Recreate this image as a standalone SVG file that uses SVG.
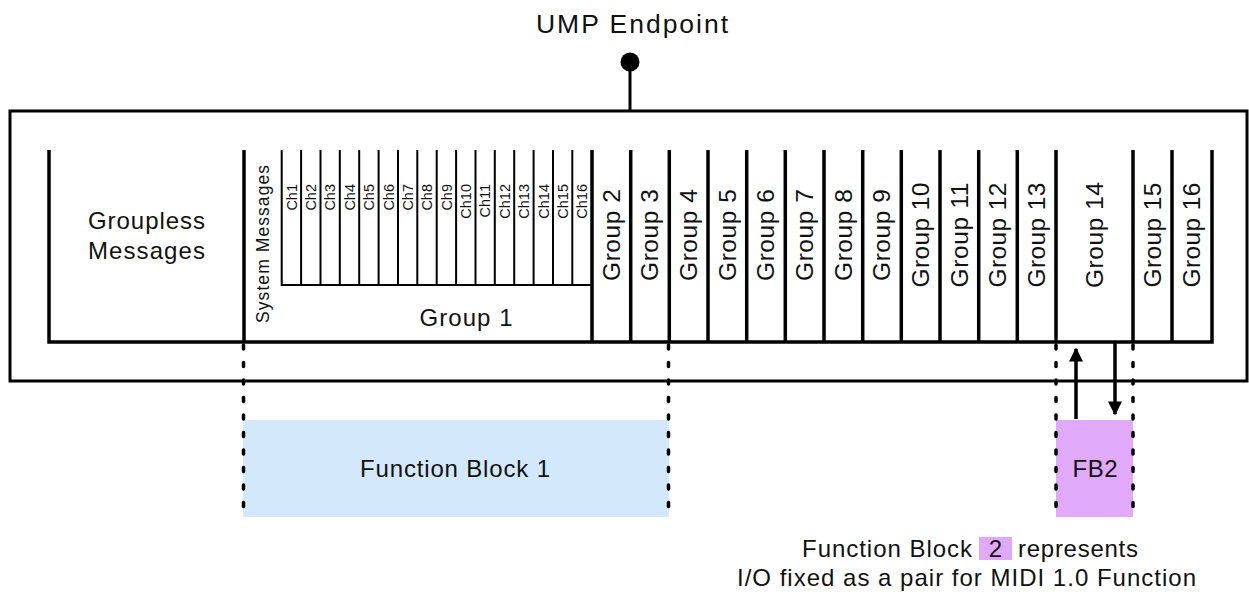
<svg xmlns="http://www.w3.org/2000/svg" width="1249" height="595" viewBox="0 0 1249 595">
<defs>
<style>
text{font-family:"Liberation Sans",Arial,sans-serif;fill:#111;}
.lbl{font-size:24px;}
.grp{font-size:24.5px;text-anchor:middle;}
.ch{font-size:14.5px;text-anchor:end;}
.thick{stroke:#000;stroke-width:3.5;fill:none;}
.thin{stroke:#000;stroke-width:2;fill:none;}
.dot{stroke:#000;stroke-width:3.5;stroke-dasharray:4 13.5;stroke-linecap:round;fill:none;}
.arr{stroke:#000;stroke-width:3.5;fill:none;}
</style>
<marker id="ah" viewBox="0 0 10 10" refX="9" refY="5" markerWidth="4.3" markerHeight="4" markerUnits="strokeWidth" orient="auto">
<path d="M0,0 L10,5 L0,10 z" fill="#000"/>
</marker>
</defs>
<rect width="1249" height="595" fill="#fff"/>

<g id="fb-areas">
<rect x="243" y="420" width="426" height="97" fill="#d3e8fb"/>
<rect x="1056" y="420" width="77" height="97" fill="#e0a9f9"/>
</g>

<g id="ump-endpoint">
<rect x="10" y="111" width="1237" height="270" fill="none" stroke="#000" stroke-width="3"/>
<text x="632" y="33" font-size="26.5" text-anchor="middle" textLength="192">UMP Endpoint</text>
</g>

<g id="frame">
<path class="thick" d="M49,150 V342 H1212 V150"/>
</g>

<g id="groupless">
<text class="lbl" x="146.5" y="229" text-anchor="middle" textLength="117">Groupless</text>
<text class="lbl" x="146.5" y="259" text-anchor="middle" textLength="117">Messages</text>
</g>

<g id="group1">
<line class="thick" x1="244" y1="150" x2="244" y2="342"/>
<path class="thin" d="M281.7,150 V285 H592 M301.1,150 V285 M320.5,150 V285 M339.8,150 V285 M359.2,150 V285 M378.6,150 V285 M398,150 V285 M417.3,150 V285 M436.7,150 V285 M456.1,150 V285 M475.5,150 V285 M494.8,150 V285 M514.2,150 V285 M533.6,150 V285 M553,150 V285 M572.3,150 V285"/>
<text transform="translate(268.5,244) rotate(-90)" font-size="17.5" text-anchor="middle" textLength="158">System Messages</text>
<text class="ch" transform="translate(296.6,184) rotate(-90)">Ch1</text>
<text class="ch" transform="translate(316.0,184) rotate(-90)">Ch2</text>
<text class="ch" transform="translate(335.4,184) rotate(-90)">Ch3</text>
<text class="ch" transform="translate(354.7,184) rotate(-90)">Ch4</text>
<text class="ch" transform="translate(374.1,184) rotate(-90)">Ch5</text>
<text class="ch" transform="translate(393.5,184) rotate(-90)">Ch6</text>
<text class="ch" transform="translate(412.9,184) rotate(-90)">Ch7</text>
<text class="ch" transform="translate(432.2,184) rotate(-90)">Ch8</text>
<text class="ch" transform="translate(451.6,184) rotate(-90)">Ch9</text>
<text class="ch" transform="translate(471.0,184) rotate(-90)">Ch10</text>
<text class="ch" transform="translate(490.4,184) rotate(-90)">Ch11</text>
<text class="ch" transform="translate(509.7,184) rotate(-90)">Ch12</text>
<text class="ch" transform="translate(529.1,184) rotate(-90)">Ch13</text>
<text class="ch" transform="translate(548.5,184) rotate(-90)">Ch14</text>
<text class="ch" transform="translate(567.9,184) rotate(-90)">Ch15</text>
<text class="ch" transform="translate(587.2,184) rotate(-90)">Ch16</text>
<text class="lbl" x="466" y="326" text-anchor="middle" textLength="93">Group 1</text>
</g>

<g id="group2"><line class="thick" x1="592" y1="150" x2="592" y2="342"/><text class="grp" transform="translate(619.5,235) rotate(-90)" textLength="92">Group 2</text></g>
<g id="group3"><line class="thick" x1="630.7" y1="150" x2="630.7" y2="342"/><text class="grp" transform="translate(658.2,235) rotate(-90)" textLength="92">Group 3</text></g>
<g id="group4"><line class="thick" x1="669.3" y1="150" x2="669.3" y2="342"/><text class="grp" transform="translate(696.9,235) rotate(-90)" textLength="92">Group 4</text></g>
<g id="group5"><line class="thick" x1="708" y1="150" x2="708" y2="342"/><text class="grp" transform="translate(735.5,235) rotate(-90)" textLength="92">Group 5</text></g>
<g id="group6"><line class="thick" x1="746.7" y1="150" x2="746.7" y2="342"/><text class="grp" transform="translate(774.2,235) rotate(-90)" textLength="92">Group 6</text></g>
<g id="group7"><line class="thick" x1="785.3" y1="150" x2="785.3" y2="342"/><text class="grp" transform="translate(812.9,235) rotate(-90)" textLength="92">Group 7</text></g>
<g id="group8"><line class="thick" x1="824" y1="150" x2="824" y2="342"/><text class="grp" transform="translate(851.5,235) rotate(-90)" textLength="92">Group 8</text></g>
<g id="group9"><line class="thick" x1="862.7" y1="150" x2="862.7" y2="342"/><text class="grp" transform="translate(890.2,235) rotate(-90)" textLength="92">Group 9</text></g>
<g id="group10"><line class="thick" x1="901.3" y1="150" x2="901.3" y2="342"/><text class="grp" transform="translate(928.9,235) rotate(-90)" textLength="105">Group 10</text></g>
<g id="group11"><line class="thick" x1="940" y1="150" x2="940" y2="342"/><text class="grp" transform="translate(967.5,235) rotate(-90)" textLength="105">Group 11</text></g>
<g id="group12"><line class="thick" x1="978.7" y1="150" x2="978.7" y2="342"/><text class="grp" transform="translate(1006.2,235) rotate(-90)" textLength="105">Group 12</text></g>
<g id="group13"><line class="thick" x1="1017.3" y1="150" x2="1017.3" y2="342"/><text class="grp" transform="translate(1044.9,235) rotate(-90)" textLength="105">Group 13</text></g>
<g id="group14"><line class="thick" x1="1056" y1="150" x2="1056" y2="342"/><text class="grp" transform="translate(1102.7,235) rotate(-90)" textLength="106">Group 14</text></g>
<g id="group15"><line class="thick" x1="1133" y1="150" x2="1133" y2="342"/><text class="grp" transform="translate(1160.7,235) rotate(-90)" textLength="105">Group 15</text></g>
<g id="group16"><line class="thick" x1="1172" y1="150" x2="1172" y2="342"/><text class="grp" transform="translate(1200.2,235) rotate(-90)" textLength="105">Group 16</text></g>

<g id="function-block-1">
<text class="lbl" x="455" y="477" text-anchor="middle" textLength="190">Function Block 1</text>
</g>

<g id="fb2">
<text class="lbl" x="1095" y="477" text-anchor="middle" textLength="45">FB2</text>
</g>

<g id="note">
<rect x="979" y="537" width="33" height="23" fill="#e0a9f9"/>
<text class="lbl" x="802" y="557" textLength="170">Function Block</text>
<text class="lbl" x="995.5" y="557" text-anchor="middle">2</text>
<text class="lbl" x="1018" y="557" textLength="120">represents</text>
<text class="lbl" x="966.5" y="586" text-anchor="middle" textLength="459">I/O fixed as a pair for MIDI 1.0 Function</text>
</g>

<g id="connectors">
<line x1="630" y1="62" x2="630" y2="111" stroke="#000" stroke-width="3"/>
<circle cx="630" cy="62" r="9.5" fill="#000"/>
<line class="dot" x1="243.5" y1="345" x2="243.5" y2="517"/>
<line class="dot" x1="668.5" y1="345" x2="668.5" y2="517"/>
<line class="dot" x1="1056" y1="345" x2="1056" y2="517"/>
<line class="dot" x1="1133" y1="345" x2="1133" y2="517"/>
<line class="arr" x1="1076" y1="419" x2="1076" y2="349" marker-end="url(#ah)"/>
<line class="arr" x1="1115" y1="342" x2="1115" y2="414" marker-end="url(#ah)"/>
</g>
</svg>
